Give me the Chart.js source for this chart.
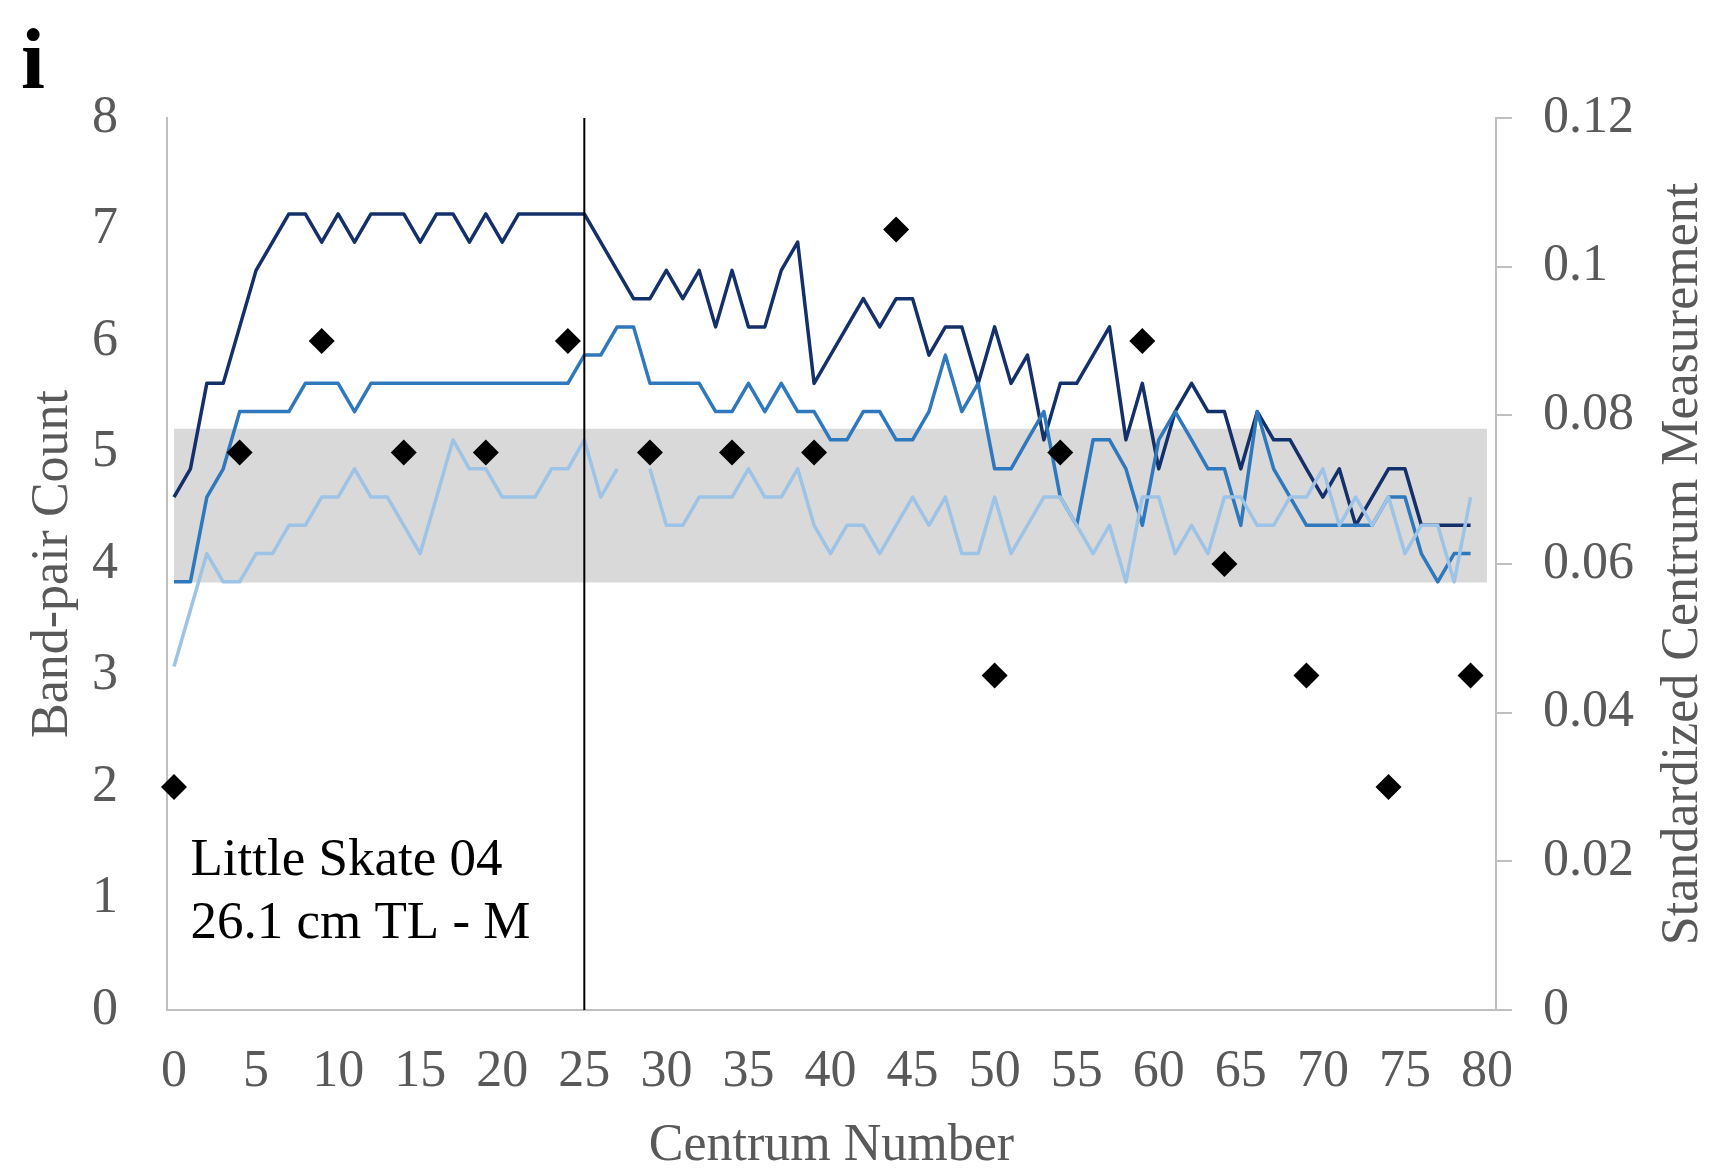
<!DOCTYPE html>
<html>
<head>
<meta charset="utf-8">
<title>Little Skate 04 – band-pair count and centrum measurements</title>
<script src="https://cdn.jsdelivr.net/npm/chart.js@4.4.1/dist/chart.umd.min.js"></script>
<style>
  html, body { margin: 0; padding: 0; background: #fff; }
  #wrap { position: relative; width: 1725px; height: 1171px; }
</style>
</head>
<body>
<div id="wrap"><canvas id="centrumChart"></canvas></div>
<script>
// Centrum number along the vertebral column (one value per centrum, 0..79)
const CENTRUM = Array.from({ length: 80 }, (_, i) => i);

const X_TICKS     = [0, 5, 10, 15, 20, 25, 30, 35, 40, 45, 50, 55, 60, 65, 70, 75, 80];
const LEFT_TICKS  = [0, 1, 2, 3, 4, 5, 6, 7, 8];
const RIGHT_TICKS = [0, 0.02, 0.04, 0.06, 0.08, 0.1, 0.12];

// Standardized centrum measurements (right axis)
const DARK_VALUES = [
  0.0690, 0.0728, 0.0843, 0.0843, 0.0919, 0.0995, 0.1033, 0.1071, 0.1071, 0.1033,
  0.1071, 0.1033, 0.1071, 0.1071, 0.1071, 0.1033, 0.1071, 0.1071, 0.1033, 0.1071,
  0.1033, 0.1071, 0.1071, 0.1071, 0.1071, 0.1071, 0.1033, 0.0995, 0.0957, 0.0957,
  0.0995, 0.0957, 0.0995, 0.0919, 0.0995, 0.0919, 0.0919, 0.0995, 0.1033, 0.0843,
  0.0881, 0.0919, 0.0957, 0.0919, 0.0957, 0.0957, 0.0881, 0.0919, 0.0919, 0.0843,
  0.0919, 0.0843, 0.0881, 0.0767, 0.0843, 0.0843, 0.0881, 0.0919, 0.0767, 0.0843,
  0.0728, 0.0805, 0.0843, 0.0805, 0.0805, 0.0728, 0.0805, 0.0767, 0.0767, 0.0728,
  0.0690, 0.0728, 0.0652, 0.0690, 0.0728, 0.0728, 0.0652, 0.0652, 0.0652, 0.0652
];
const MID_VALUES = [
  0.0576, 0.0576, 0.0690, 0.0728, 0.0805, 0.0805, 0.0805, 0.0805, 0.0843, 0.0843,
  0.0843, 0.0805, 0.0843, 0.0843, 0.0843, 0.0843, 0.0843, 0.0843, 0.0843, 0.0843,
  0.0843, 0.0843, 0.0843, 0.0843, 0.0843, 0.0881, 0.0881, 0.0919, 0.0919, 0.0843,
  0.0843, 0.0843, 0.0843, 0.0805, 0.0805, 0.0843, 0.0805, 0.0843, 0.0805, 0.0805,
  0.0767, 0.0767, 0.0805, 0.0805, 0.0767, 0.0767, 0.0805, 0.0881, 0.0805, 0.0843,
  0.0728, 0.0728, 0.0767, 0.0805, 0.0690, 0.0652, 0.0767, 0.0767, 0.0728, 0.0652,
  0.0767, 0.0805, 0.0767, 0.0728, 0.0728, 0.0652, 0.0805, 0.0728, 0.0690, 0.0652,
  0.0652, 0.0652, 0.0652, 0.0652, 0.0690, 0.0690, 0.0614, 0.0576, 0.0614, 0.0614
];
const LIGHT_VALUES = [
  0.0462, 0.0538, 0.0614, 0.0576, 0.0576, 0.0614, 0.0614, 0.0652, 0.0652, 0.0690,
  0.0690, 0.0728, 0.0690, 0.0690, 0.0652, 0.0614, 0.0690, 0.0767, 0.0728, 0.0728,
  0.0690, 0.0690, 0.0690, 0.0728, 0.0728, 0.0767, 0.0690, 0.0728, null,   0.0728,
  0.0652, 0.0652, 0.0690, 0.0690, 0.0690, 0.0728, 0.0690, 0.0690, 0.0728, 0.0652,
  0.0614, 0.0652, 0.0652, 0.0614, 0.0652, 0.0690, 0.0652, 0.0690, 0.0614, 0.0614,
  0.0690, 0.0614, 0.0652, 0.0690, 0.0690, 0.0652, 0.0614, 0.0652, 0.0576, 0.0690,
  0.0690, 0.0614, 0.0652, 0.0614, 0.0690, 0.0690, 0.0652, 0.0652, 0.0690, 0.0690,
  0.0728, 0.0652, 0.0690, 0.0652, 0.0690, 0.0614, 0.0652, 0.0652, 0.0576, 0.0690
];

// Band-pair counts on sampled centra (left axis)
const BAND_PAIR_X     = [0, 4, 9, 14, 19, 24, 29, 34, 39, 44, 50, 54, 59, 64, 69, 74, 79];
const BAND_PAIR_COUNT = [2, 5, 6, 5, 5, 6, 5, 5, 5, 7, 3, 5, 6, 4, 3, 2, 3];

// Shaded reference range of the standardized measurement
const BAND_LOW  = 0.0575;
const BAND_HIGH = 0.0782;
const BAND_FROM = 0;
const BAND_TO   = 80;

const SPLIT_AT = 25;

const SPECIMEN_LINES = ['Little Skate 04', '26.1 cm TL - M'];
const SPECIMEN_X = 1;
const SPECIMEN_Y = [1.21, 0.645];

const SERIF = '"Liberation Serif", "Times New Roman", serif';
const AXIS_TEXT = '#595959';
const AXIS_LINE = '#bfbfbf';
const LINE_W = 3.5;

const pts = (xs, ys) => xs.map((x, i) => ({ x, y: ys[i] }));
const fixedTicks = (list) => (scale) => { scale.ticks = list.map(v => ({ value: v })); };

// panel letter, specimen note and the right-hand axis title (reads bottom-to-top)
const extras = {
  id: 'extras',
  afterDraw(chart) {
    const { ctx, chartArea, scales } = chart;
    ctx.save();

    ctx.fillStyle = '#000';
    ctx.font = `bold 86px ${SERIF}`;
    ctx.textAlign = 'left';
    ctx.textBaseline = 'alphabetic';
    ctx.fillText('i', 21, 88);

    ctx.font = `53px ${SERIF}`;
    SPECIMEN_LINES.forEach((line, i) => {
      ctx.fillText(line, scales.x.getPixelForValue(SPECIMEN_X), scales.y.getPixelForValue(SPECIMEN_Y[i]));
    });

    ctx.fillStyle = AXIS_TEXT;
    ctx.font = `52px ${SERIF}`;
    ctx.textAlign = 'center';
    ctx.translate(scales.yRight.right - 28, (chartArea.top + chartArea.bottom) / 2);
    ctx.rotate(-Math.PI / 2);
    ctx.fillText('Standardized Centrum Measurement', 0, 0);

    ctx.restore();
  }
};

new Chart(document.getElementById('centrumChart'), {
  type: 'line',
  data: {
    datasets: [
      {
        label: 'Band-pair count',
        data: pts(BAND_PAIR_X, BAND_PAIR_COUNT),
        yAxisID: 'y',
        showLine: false,
        pointStyle: 'rectRot',
        pointRadius: 13,
        pointBackgroundColor: '#000',
        pointBorderWidth: 0,
        clip: false,
        order: 0
      },
      {
        label: 'split',
        data: [{ x: SPLIT_AT, y: 0 }, { x: SPLIT_AT, y: 8 }],
        yAxisID: 'y',
        borderColor: '#000',
        borderWidth: 2,
        pointRadius: 0,
        order: 1
      },
      {
        label: 'light',
        data: pts(CENTRUM, LIGHT_VALUES),
        yAxisID: 'yRight',
        borderColor: '#9dc3e6',
        borderWidth: LINE_W,
        borderJoinStyle: 'round',
        pointRadius: 0,
        order: 2
      },
      {
        label: 'mid',
        data: pts(CENTRUM, MID_VALUES),
        yAxisID: 'yRight',
        borderColor: '#2e78bd',
        borderWidth: LINE_W,
        borderJoinStyle: 'round',
        pointRadius: 0,
        order: 3
      },
      {
        label: 'dark',
        data: pts(CENTRUM, DARK_VALUES),
        yAxisID: 'yRight',
        borderColor: '#14306a',
        borderWidth: LINE_W,
        borderJoinStyle: 'round',
        pointRadius: 0,
        order: 4
      },
      {
        label: 'range high',
        data: [{ x: BAND_FROM, y: BAND_HIGH }, { x: BAND_TO, y: BAND_HIGH }],
        yAxisID: 'yRight',
        borderColor: 'rgba(0,0,0,0)',
        backgroundColor: '#d9d9d9',
        pointRadius: 0,
        fill: '+1',
        order: 5
      },
      {
        label: 'range low',
        data: [{ x: BAND_FROM, y: BAND_LOW }, { x: BAND_TO, y: BAND_LOW }],
        yAxisID: 'yRight',
        borderColor: 'rgba(0,0,0,0)',
        pointRadius: 0,
        fill: false,
        order: 6
      }
    ]
  },
  options: {
    responsive: true,
    maintainAspectRatio: false,
    animation: false,
    events: [],
    layout: { padding: { top: 118, left: 0, right: 0, bottom: 0 } },
    plugins: {
      legend: { display: false },
      tooltip: { enabled: false }
    },
    scales: {
      x: {
        type: 'linear',
        position: 'bottom',
        min: -0.4265,
        max: 80.548,
        afterBuildTicks: fixedTicks(X_TICKS),
        afterFit: (s) => { s.height = 161; },
        ticks: { font: { family: SERIF, size: 52 }, color: AXIS_TEXT, padding: 31, maxRotation: 0, autoSkip: false },
        grid: { display: false, drawTicks: false },
        border: { color: AXIS_LINE, width: 2 },
        title: {
          display: true, text: 'Centrum Number', color: AXIS_TEXT,
          font: { family: SERIF, size: 52, lineHeight: 0.8 }, padding: { top: 0, bottom: 4 }
        }
      },
      y: {
        position: 'left',
        min: 0,
        max: 8,
        afterBuildTicks: fixedTicks(LEFT_TICKS),
        afterFit: (s) => { s.width = 167; },
        ticks: { font: { family: SERIF, size: 52 }, color: AXIS_TEXT, padding: 49 },
        grid: { display: false, drawTicks: false },
        border: { color: AXIS_LINE, width: 2 },
        title: {
          display: true, text: 'Band-pair Count', color: AXIS_TEXT,
          font: { family: SERIF, size: 52 }, padding: { top: 22, bottom: 0 }
        }
      },
      yRight: {
        position: 'right',
        min: 0,
        max: 0.12,
        afterBuildTicks: fixedTicks(RIGHT_TICKS),
        afterFit: (s) => { s.width = 229; },
        ticks: {
          font: { family: SERIF, size: 52 }, color: AXIS_TEXT, padding: 31,
          callback: (v) => String(parseFloat(Number(v).toFixed(2)))
        },
        grid: { display: true, drawOnChartArea: false, drawTicks: true, tickLength: 16, color: AXIS_LINE, lineWidth: 2 },
        border: { color: AXIS_LINE, width: 2 }
      }
    }
  },
  plugins: [extras]
});
</script>
</body>
</html>
